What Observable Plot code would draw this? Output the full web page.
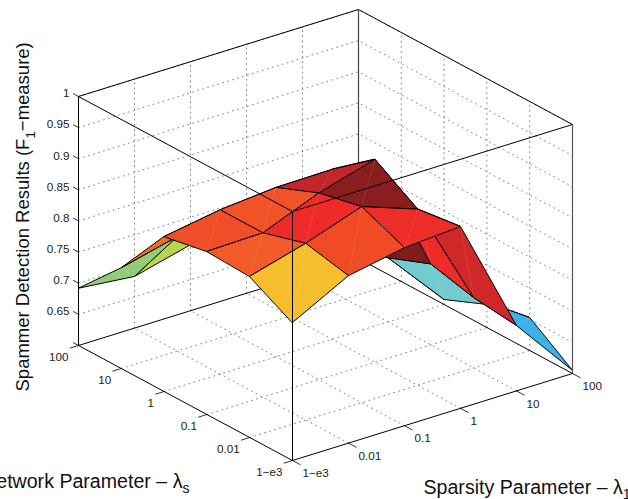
<!DOCTYPE html>
<html>
<head>
<meta charset="utf-8">
<script src="https://cdn.jsdelivr.net/npm/d3@7"></script>
<script src="https://cdn.jsdelivr.net/npm/@observablehq/plot@0.6"></script>
<style>
html,body{margin:0;padding:0;background:#fff;overflow:hidden}
svg{display:block}
</style>
</head>
<body>
<div id="chart"></div>
<script>
const lambda1Labels = ["1\u2212e3", "0.01", "0.1", "1", "10", "100"];
const lambdaSLabels = ["1\u2212e3", "0.01", "0.1", "1", "10", "100"];
const zTicks = [0.65, 0.7, 0.75, 0.8, 0.85, 0.9, 0.95, 1];
const zLabels = ["0.65", "0.7", "0.75", "0.8", "0.85", "0.9", "0.95", "1"];

// F1 by lambda_s (rows, 1-e3 to 100) and lambda_1 (columns, 1-e3 to 100)
const f1s0 = [0.8217, 0.869, 0.886, 0.892, 0.705, 0.605];
const f1s1 = [0.859, 0.884, 0.915, 0.883, 0.713, 0.653];
const f1s2 = [0.862, 0.864, 0.900, 0.926, 0.730, 0.637];
const f1s3 = [0.849, 0.864, 0.872, 0.873, 0.703, 0.608];
const f1s4 = [0.762, 0.784, 0.790, 0.750, 0.680, 0.660];
const f1s5 = [0.692, 0.683, 0.706, 0.700, 0.660, 0.640];
const f1 = [f1s0, f1s1, f1s2, f1s3, f1s4, f1s5];

const cellColors0 = ["#F6BD2C", "#F04B25", "#EE2C28", "#D02828", "#3BB2E8"];
const cellColors1 = ["#F25A2A", "#EE2B28", "#8A1E1F", "#EE2B28", "#72CBCF"];
const cellColors2 = ["#F04E28", "#F15227", "#C32528", "#7F1D1D", "#72CBCF"];
const cellColors3 = ["#F26B24", "#F15227", "#F04E28", "#8A1E1F", "#72CBCF"];
const cellColors4 = ["#93CC78", "#B9D54E", "#F26B24", "#F6BD2C", "#72CBCF"];
const cellColors = [cellColors0, cellColors1, cellColors2, cellColors3, cellColors4];

const Z0 = 0.6, Z1 = 1;
// 3-D view of the box: u = lambda_1 index, v = lambda_s index, z = F1
const project = (u, v, z) => ({
  px: 292 + 56 * u - 42.8 * v,
  py: 460 - 17.4 * u - 23 * v - (z - Z0) * 622.5
});
const idx = d3.range(6), inner = [1, 2, 3, 4];
const seg = (pts, k) => pts.map(p => ({...project(...p), k}));

const gridSegs = [];
let gk = 0;
for (const z of zTicks) {
  gridSegs.push(...seg([[0,5,z],[5,5,z],[5,0,z]], gk++));
}
for (const i of inner) {
  gridSegs.push(...seg([[i,5,Z0],[i,5,Z1]], gk++));
  gridSegs.push(...seg([[5,i,Z0],[5,i,Z1]], gk++));
  gridSegs.push(...seg([[i,0,Z0],[i,5,Z0]], gk++));
  gridSegs.push(...seg([[0,i,Z0],[5,i,Z0]], gk++));
}

const boxBack = [
  ...seg([[0,5,Z1],[5,5,Z1],[5,0,Z1]], "top"),
  ...seg([[0,5,Z0],[5,5,Z0],[5,0,Z0]], "floor")
];
const boxBackPost = seg([[5,5,Z0],[5,5,Z1]], "v");
const boxFront = [
  ...seg([[0,5,Z1],[0,0,Z1],[5,0,Z1]], "top"),
  ...seg([[0,5,Z0],[0,0,Z0],[5,0,Z0]], "floor"),
  ...seg([[0,0,Z0],[0,0,Z1]], "front"),
  ...seg([[0,5,Z0],[0,5,Z1]], "left")
];
const boxRight = seg([[5,0,Z0],[5,0,Z1]], "right");

const at = (u, v) => project(u, v, f1[v][u]);
const cellMarks = [];
for (let v = 4; v >= 0; v--) {
  for (let u = 4; u >= 0; u--) {
    const corners = [at(u,v), at(u+1,v), at(u+1,v+1), at(u,v+1)];
    cellMarks.push(Plot.line(corners, {
      x: "px", y: "py", curve: "linear-closed",
      fill: cellColors[v][u], stroke: "#000", strokeWidth: 1, strokeLinejoin: "round"
    }));
    cellMarks.push(Plot.line([at(u,v), at(u+1,v+1)], {
      x: "px", y: "py", stroke: "#fff", strokeOpacity: 0.14, strokeWidth: 0.7
    }));
  }
}

const tickSegs = [];
let tk = 0;
zTicks.forEach(z => tickSegs.push(...seg([[0,5,z],[0,5.12,z]], "z" + tk++)));
tickSegs.push(...seg([[0,5,Z0],[0,5.12,Z0]], "z" + tk++));
idx.forEach(i => {
  tickSegs.push(...seg([[0,i,Z0],[-0.15,i,Z0]], "s" + i));
  tickSegs.push(...seg([[i,0,Z0],[i,-0.18,Z0]], "l" + i));
});

const zText = zTicks.map((z, i) => ({...project(0,5,z), label: zLabels[i]}));
const sText = lambdaSLabels.map((label, i) => ({...project(0,i,Z0), label}));
const lText = lambda1Labels.map((label, i) => ({...project(i,0,Z0), label}));

const tickFont = {fontFamily: "Liberation Sans", fontSize: 11.7, fill: "#222"};
const titleFont = {fontFamily: "Liberation Sans", fontSize: 19.6, fill: "#111"};
const yTitleFont = {fontFamily: "Liberation Sans", fontSize: 18.5, fill: "#111"};

// Write "_x" as a lowered subscript inside the one text element
const subscript = (index, scales, values, dims, ctx, next) => {
  const g = next(index, scales, values, dims, ctx);
  d3.select(g).selectAll("text").each(function () {
    const parts = this.textContent.split("_");
    if (parts.length < 2) return;
    const t = d3.select(this).text(parts[0]);
    const [sub, ...rest] = [parts[1][0], parts[1].slice(1)];
    t.append("tspan").attr("dy", "0.4em").attr("font-size", "0.72em").text(sub);
    if (rest[0]) t.append("tspan").attr("dy", "-0.288em").text(rest[0]);
  });
  return g;
};

const chart = Plot.plot({
  width: 628, height: 499,
  marginTop: 0, marginRight: 0, marginBottom: 0, marginLeft: 0,
  x: {domain: [0, 628], range: [0, 628], axis: null},
  y: {domain: [0, 499], range: [0, 499], axis: null},
  marks: [
    Plot.line(gridSegs, {x: "px", y: "py", z: "k", stroke: "#666", strokeWidth: 0.8, strokeDasharray: "1 4.2"}),
    Plot.line(boxBack, {x: "px", y: "py", z: "k", stroke: "#000", strokeWidth: 1}),
    Plot.line(boxBackPost, {x: "px", y: "py", stroke: "#444", strokeWidth: 1.2}),
    ...cellMarks,
    Plot.line(boxFront, {x: "px", y: "py", z: "k", stroke: "#000", strokeWidth: 1}),
    Plot.line(boxRight, {x: "px", y: "py", stroke: "#555", strokeWidth: 1.2}),
    Plot.line(tickSegs, {x: "px", y: "py", z: "k", stroke: "#000", strokeWidth: 0.8}),
    Plot.text(zText, {x: "px", y: "py", text: "label", textAnchor: "end", dx: -9, dy: -3, ...tickFont}),
    Plot.text(sText, {x: "px", y: "py", text: "label", textAnchor: "end", dx: -10, dy: 12, ...tickFont}),
    Plot.text(lText, {x: "px", y: "py", text: "label", textAnchor: "start", dx: 10, dy: 13, ...tickFont}),
    Plot.text(["Network Parameter \u2013 \u03BB_s"], {x: [189], y: [481], textAnchor: "end", ...titleFont, render: subscript}),
    Plot.text(["Sparsity Parameter \u2013 \u03BB_1"], {x: [423], y: [487], textAnchor: "start", ...titleFont, render: subscript}),
    Plot.text(["Spammer Detection Results (F_1\u2212measure)"], {x: [23], y: [391], textAnchor: "start", rotate: -90, ...yTitleFont, render: subscript})
  ]
});
document.getElementById("chart").append(chart);
</script>
</body>
</html>
